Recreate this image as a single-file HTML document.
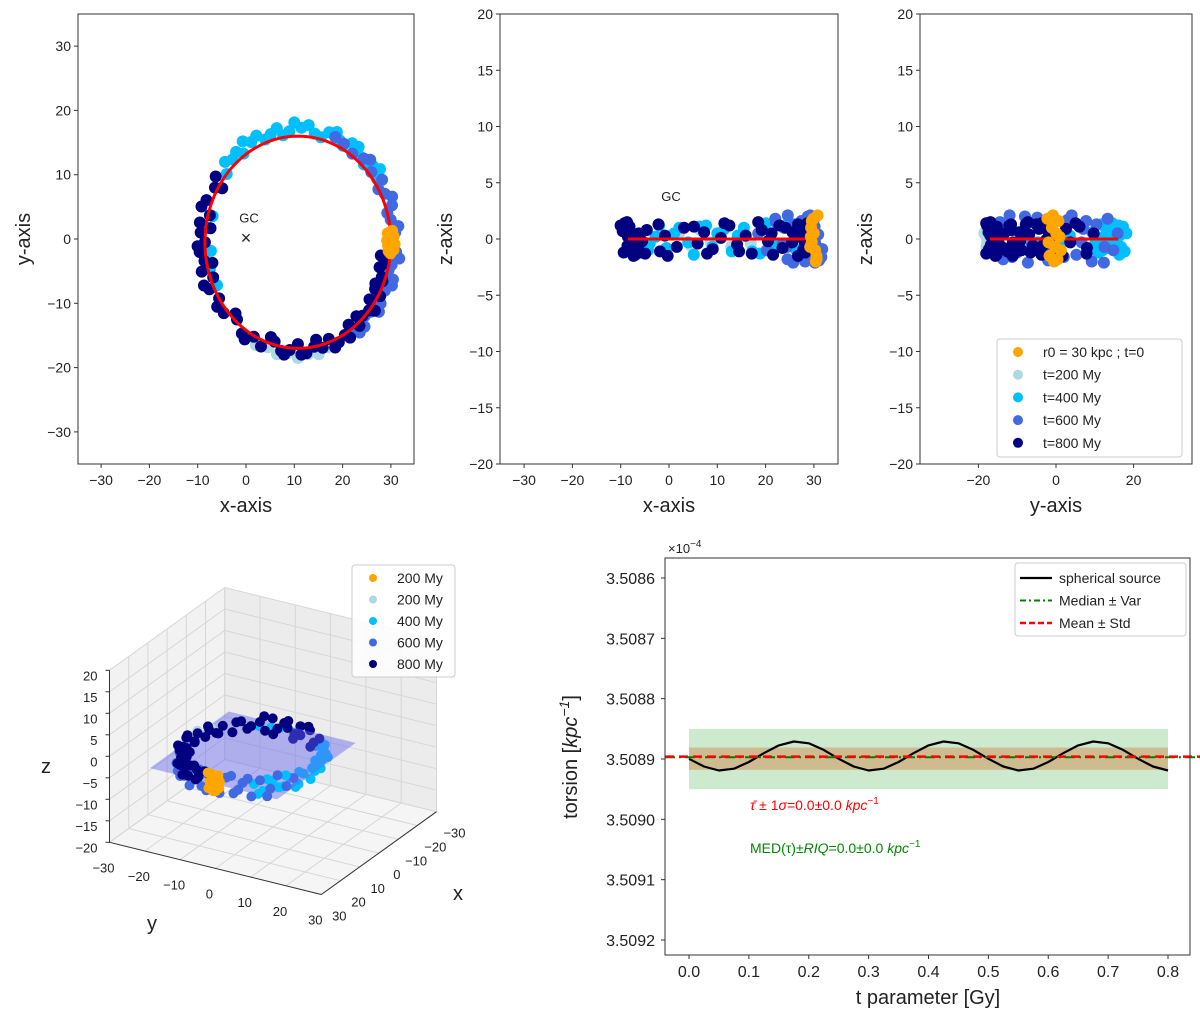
<!DOCTYPE html>
<html><head><meta charset="utf-8"><style>
html,body{margin:0;padding:0;background:#fff}
svg{display:block;font-family:"Liberation Sans","DejaVu Sans",sans-serif}
</style></head><body>
<svg id="fig" width="1200" height="1015" viewBox="0 0 1200 1015" xmlns="http://www.w3.org/2000/svg">
<rect width="1200" height="1015" fill="#fff"/>
<g id="g1"></g>
<g id="g2"></g>
<g id="g3"></g>
<g id="g4"></g>
<g id="g5"></g>
</svg>
<script>
// ---- data ----
const groupNames = ["t=200 My","t=400 My","t=600 My","t=800 My","r0 = 30 kpc ; t=0"];
const groupColors = ["#ADD8E6","#00BFFF","#4169E1","#000080","#FFA500"];
const lightAngles = [245,252,258,264,270,276,282,288];
const lightOffsets = [0.07,0.04,0.08,0.05,0.09,0.06,0.08,0.04];
const lightZ = [0.4,-0.6,0.8,-0.3,0.5,-0.7,0.2,-0.4];
const skyAngles = [35,42,50,58,65,72,80,88,95,102,110,118,125,132,140,165,172,185,195,205,38,46,54,62,68,76,84,92,99,106,114,122,128,136];
const skyOffsets = [0.04,0.08,0.05,0.1,0.06,0.09,0.04,0.08,0.05,0.1,0.03,0.07,0.02,0.05,0.0,-0.05,-0.03,-0.06,-0.02,-0.04,0.12,0.02,0.11,0.03,0.12,0.02,0.11,0.13,0.02,0.06,0.1,0.12,0.08,0.09];
const skyZ = [0.6,-0.9,1.0,-0.5,0.8,-1.1,0.3,0.9,-0.7,1.1,-0.3,0.5,-0.8,0.2,-0.4,0.3,-0.2,0.4,-0.3,0.1,-1.2,1.3,-0.4,1.4,-1.3,1.0,-1.1,0.5,1.2,-1.4,1.0,-0.9,1.2,-1.0];
const royalAngles = [-55,-48,-40,-33,-26,-19,-12,-5,5,12,19,26,33,40,48,55,62,68,-52,-44,-37,-30,-22,-15,-8,8,16,23,30,45];
const royalOffsets = [0.03,0.07,0.02,0.06,0.04,0.08,0.03,0.06,0.05,0.02,0.07,0.04,0.08,0.03,0.06,0.02,0.05,0.07,0.08,0.0,0.09,0.01,0.09,0.01,0.1,0.09,0.0,0.1,0.0,0.1];
const royalZ = [1.5,-1.8,0.8,-1.2,2.0,-0.6,1.1,-1.9,0.4,1.7,-1.4,0.9,-2.0,1.3,-0.7,1.8,-1.0,0.5,-0.5,2.1,-1.6,0.3,-2.1,1.9,-0.9,-1.6,2.1,-0.3,1.6,-2.1];
const navyAngles = [145,150,158,165,170,175,180,185,190,195,200,205,212,220,228,235,242,248,255,260,265,270,275,280,285,290,295,300,305,310,315,320,325,330,335,340,345,352,148,162,172,182,192,202,215,225,238,252,262,272,282,292,302,312,322,332,338,348];
const navyOffsets = [0.08,0.03,0.06,-0.02,0.07,0.05,0.0,0.06,0.02,0.07,-0.03,0.05,0.0,0.04,-0.02,0.05,0.01,0.06,-0.03,0.04,0.02,-0.04,0.05,0.0,0.03,-0.03,0.04,0.01,-0.05,0.03,-0.02,0.0,-0.06,0.02,-0.08,-0.04,-0.09,-0.1,-0.04,0.09,-0.05,0.08,-0.06,0.09,0.06,-0.05,0.08,-0.06,0.07,0.06,-0.06,0.07,0.06,-0.06,0.05,-0.06,-0.02,-0.05];
const navyZ = [0.5,-0.8,1.1,-0.3,0.9,-1.2,0.2,0.7,-0.6,1.3,-1.0,0.4,-0.2,0.8,-1.1,0.3,-0.7,1.0,-0.4,0.6,-0.9,0.1,1.2,-0.5,0.3,-1.3,0.8,-0.2,0.5,-0.8,1.0,-0.3,0.6,-1.0,0.4,-0.6,0.9,-0.1,-1.3,1.4,-1.5,1.2,-1.4,1.5,-1.2,1.3,-1.5,1.1,-1.3,1.4,-1.1,1.5,-1.4,1.2,-1.5,1.3,-1.2,1.4];
const orangeAngles = [-6,-4,-2,0,2,4,6,-5,-1,3,5,1];
const orangeOffsets = [0.0,0.03,-0.03,0.02,0.0,-0.02,0.02,-0.02,0.04,0.03,-0.03,-0.04];
const orangeZ = [1.8,-1.5,1.0,-2.0,0.5,1.6,-1.0,-0.3,2.1,-1.8,0.2,-0.7];
const orbitCenter = [10.75,-0.5];
const orbitRadii = [19.25,16.5];
const xyTicks = [-30,-20,-10,0,10,20,30];
const zTicks = [-20,-15,-10,-5,0,5,10,15,20];
const yzXTicks = [-20,0,20];
const tVals = [0,0.025,0.05,0.075,0.1,0.125,0.15,0.175,0.2,0.225,0.25,0.275,0.3,0.325,0.35,0.375,0.4,0.425,0.45,0.475,0.5,0.525,0.55,0.575,0.6,0.625,0.65,0.675,0.7,0.725,0.75,0.775,0.8];
const torsionVals = [3.5088996,3.5089125,3.508919,3.508916,3.508905,3.5088904,3.5088775,3.508871,3.508874,3.508885,3.5088996,3.5089125,3.508919,3.508916,3.508905,3.5088904,3.5088775,3.508871,3.508874,3.508885,3.5088996,3.5089125,3.508919,3.508916,3.508905,3.5088904,3.5088775,3.508871,3.508874,3.508885,3.5088996,3.5089125,3.508919];
const torsionMean = [3.508896];
const torsionMedian = [3.508897];
const stdBand = [3.508881,3.508918];
const varBand = [3.50885,3.50895];
const tTicks = [0,0.1,0.2,0.3,0.4,0.5,0.6,0.7,0.8];
const torsionTicks = [3.5086,3.5087,3.5088,3.5089,3.509,3.5091,3.5092];

// ---- helpers ----
const NS='http://www.w3.org/2000/svg';
function add(parent, tag, attrs, name){
  const e=document.createElementNS(NS,tag);
  for(const k in attrs) e.setAttribute(k,attrs[k]);
  
  
  parent.appendChild(e);
  return e;
}
function txt(parent,x,y,s,size,anchor,name,extra){
  const a={x:x,y:y,'font-size':size,'text-anchor':anchor||'middle',fill:'#222'};
  if(extra) for(const k in extra) a[k]=extra[k];
  const t=add(parent,'text',a,name); t.textContent=s; return t;
}
function groupPoints(ang,off,z){
  return ang.map((a,i)=>{const r=a*Math.PI/180;
    return {x:orbitCenter[0]+orbitRadii[0]*(1+off[i])*Math.cos(r), y:orbitCenter[1]+orbitRadii[1]*(1+off[i])*Math.sin(r), z:z[i]};});
}
const groups=[groupPoints(lightAngles,lightOffsets,lightZ),groupPoints(skyAngles,skyOffsets,skyZ),groupPoints(royalAngles,royalOffsets,royalZ),groupPoints(navyAngles,navyOffsets,navyZ),groupPoints(orangeAngles,orangeOffsets,orangeZ)];
const orbit=[];for(let k=0;k<=120;k++){const r=k*3*Math.PI/180;orbit.push({x:orbitCenter[0]+orbitRadii[0]*Math.cos(r),y:orbitCenter[1]+orbitRadii[1]*Math.sin(r),z:0});}

// ---- top panels ----
const sx1=x=>246+4.83*x, sy1=y=>239-6.43*y;
const sx2=x=>669+4.83*x, sz=z=>239-11.25*z;
const sy3=y=>1056+3.88*y;
const panels=[
 {g:document.getElementById('g1'),L:78,R:414,fx:p=>sx1(p.x),fy:p=>sy1(p.y),xt:xyTicks,xs:sx1,yt:xyTicks,ys:sy1,xl:'x-axis',yl:'y-axis'},
 {g:document.getElementById('g2'),L:500,R:838,fx:p=>sx2(p.x),fy:p=>sz(p.z),xt:xyTicks,xs:sx2,yt:zTicks,ys:sz,xl:'x-axis',yl:'z-axis'},
 {g:document.getElementById('g3'),L:920,R:1192,fx:p=>sy3(p.y),fy:p=>sz(p.z),xt:yzXTicks,xs:sy3,yt:zTicks,ys:sz,xl:'y-axis',yl:'z-axis'}
];
panels.forEach((P,pi)=>{
  const g=P.g;
  groups.forEach((pts,gi)=>{
    pts.forEach(p=>{
      add(g,'circle',{cx:P.fx(p).toFixed(1),cy:P.fy(p).toFixed(1),r:6,fill:groupColors[gi]},'scatter-point');
    });
    if(gi===3){
      add(g,'polyline',{points:orbit.map(p=>P.fx(p).toFixed(1)+','+P.fy(p).toFixed(1)).join(' '),fill:'none',stroke:'#f00','stroke-width':3},'orbit-line');
    }
  });
  add(g,'rect',{x:P.L,y:14,width:P.R-P.L,height:450,fill:'none',stroke:'#333','stroke-width':1},'axes-frame');
  P.xt.forEach(v=>{const x=P.xs(v);
    add(g,'line',{x1:x,x2:x,y1:464,y2:468,stroke:'#333'},'x-tick');
    txt(g,x,485,String(v).replace('-','\u2212'),14,'middle','x-tick-label');});
  P.yt.forEach(v=>{const y=P.ys(v);
    add(g,'line',{x1:P.L-4,x2:P.L,y1:y,y2:y,stroke:'#333'},'y-tick');
    txt(g,P.L-7,y+5,String(v).replace('-','\u2212'),14,'end','y-tick-label');});
  txt(g,(P.L+P.R)/2,512,P.xl,20,'middle','x-axis-title');
  const yt=txt(g,0,0,P.yl,20,'middle','y-axis-title');
  yt.setAttribute('transform','translate('+(P.L-48)+',239) rotate(-90)');
});
txt(panels[0].g,sx1(0)+3,sy1(2.6),'GC',13,'middle','gc-label');
txt(panels[0].g,sx1(0),sy1(0)+5,'\u00d7',18,'middle','gc-marker');
txt(panels[1].g,sx2(0)+2,sz(3.4),'GC',13,'middle','gc-label');
(function(){const g=panels[2].g;
  add(g,'rect',{x:997,y:339,width:185,height:118,rx:3,fill:'#fff','fill-opacity':0.85,stroke:'#ccc'},'legend-box');
  const order=[4,0,1,2,3];
  order.forEach((gi,i)=>{const y=352+i*22.7;
    add(g,'circle',{cx:1018,cy:y,r:5,fill:groupColors[gi]},'legend-marker');
    txt(g,1043,y+5,groupNames[gi],14,'start','legend-entry');});
})();

// ---- 3D panel ----
const g4=document.getElementById('g4');
const P3=(x,y,z)=>[273-1.92*x+3.53*y, 741+1.38*x+0.87*y-4.3*z];
function poly(pts,attrs,name){return add(g4,'polygon',Object.assign({points:pts.map(p=>p[0].toFixed(1)+','+p[1].toFixed(1)).join(' ')},attrs),name);}
poly([P3(30,-30,-20),P3(-30,-30,-20),P3(-30,-30,20),P3(30,-30,20)],{fill:'#f2f2f2'},'left-pane');
poly([P3(-30,-30,-20),P3(-30,30,-20),P3(-30,30,20),P3(-30,-30,20)],{fill:'#ececec'},'back-pane');
poly([P3(30,-30,-20),P3(30,30,-20),P3(-30,30,-20),P3(-30,-30,-20)],{fill:'#f5f5f5'},'floor-pane');
function seg(a,b,c,w,name){add(g4,'line',{x1:a[0],y1:a[1],x2:b[0],y2:b[1],stroke:c,'stroke-width':w},name);}
xyTicks.forEach(v=>{
  seg(P3(v,-30,-20),P3(v,30,-20),'#d6d6d6',1,'grid-line');
  seg(P3(-30,v,-20),P3(30,v,-20),'#d6d6d6',1,'grid-line');
  seg(P3(v,-30,-20),P3(v,-30,20),'#d6d6d6',1,'grid-line');
  seg(P3(-30,v,-20),P3(-30,v,20),'#d6d6d6',1,'grid-line');
});
zTicks.forEach(v=>{
  seg(P3(30,-30,v),P3(-30,-30,v),'#d6d6d6',1,'grid-line');
  seg(P3(-30,-30,v),P3(-30,30,v),'#d6d6d6',1,'grid-line');
});
seg(P3(30,-30,-20),P3(30,-30,20),'#333',1,'z-axis-line');
seg(P3(30,-30,-20),P3(30,30,-20),'#333',1,'y-axis-line');
seg(P3(30,30,-20),P3(-30,30,-20),'#333',1,'x-axis-line');
zTicks.forEach(v=>{const p=P3(30,-30,v);seg(p,[p[0]-4,p[1]],'#333',1,'z-tick');txt(g4,p[0]-12,p[1]+10,String(v).replace('-','\u2212'),13,'end','z-tick-label');});
xyTicks.forEach(v=>{const p=P3(30,v,-20);txt(g4,p[0]-6,p[1]+30,String(v).replace('-','\u2212'),13,'middle','y-tick-label');
  const q=P3(v,30,-20);txt(g4,q[0]+18,q[1]+26,String(v).replace('-','\u2212'),13,'middle','x-tick-label');});
txt(g4,46,773,'z',20,'middle','z-axis-title');
txt(g4,152,930,'y',20,'middle','y-axis-title');
txt(g4,458,900,'x',20,'middle','x-axis-title');
const back=[],front=[];
groups.forEach((pts,gi)=>pts.forEach(p=>{(p.y>0&&p.x<20?back:front).push([p,gi]);}));
function dot(p,gi){const s=P3(p.x,p.y,p.z);add(g4,'circle',{cx:s[0].toFixed(1),cy:s[1].toFixed(1),r:5,fill:groupColors[gi]},'scatter-point-3d');}
back.forEach(a=>dot(a[0],a[1]));
poly([P3(31,-18,0),P3(-10,-18,0),P3(-10,18,0),P3(31,18,0)],{fill:'#6464f0','fill-opacity':0.45},'fit-plane');
front.forEach(a=>dot(a[0],a[1]));
add(g4,'rect',{x:352,y:565,width:103,height:112,rx:3,fill:'#fff','fill-opacity':0.85,stroke:'#ccc'},'legend-box');
[["200 My",4],["200 My",0],["400 My",1],["600 My",2],["800 My",3]].forEach((e,i)=>{const y=578+i*21.5;
  add(g4,'circle',{cx:373,cy:y,r:4,fill:groupColors[e[1]]},'legend-marker');
  txt(g4,397,y+5,e[0],14,'start','legend-entry');});

// ---- torsion panel ----
const g5=document.getElementById('g5');
const tx=t=>689+598.75*t, vy=v=>578+(v-3.5086)*603333;
const L5=665,R5=1190,T5=558,B5=955;
add(g5,'rect',{x:tx(0),y:vy(varBand[0]),width:tx(0.8)-tx(0),height:vy(varBand[1])-vy(varBand[0]),fill:'#4caf50','fill-opacity':0.28},'var-band');
add(g5,'rect',{x:tx(0),y:vy(stdBand[0]),width:tx(0.8)-tx(0),height:vy(stdBand[1])-vy(stdBand[0]),fill:'#d2691e','fill-opacity':0.35},'std-band');
add(g5,'polyline',{points:tVals.map((t,i)=>tx(t).toFixed(1)+','+vy(torsionVals[i]).toFixed(1)).join(' '),fill:'none',stroke:'#000','stroke-width':2.2,'stroke-linejoin':'round'},'torsion-line');
add(g5,'line',{x1:L5,x2:1200,y1:vy(torsionMedian[0]),y2:vy(torsionMedian[0]),stroke:'#008000','stroke-width':2,'stroke-dasharray':'10 4 2 4'},'median-line');
add(g5,'line',{x1:L5,x2:1200,y1:vy(torsionMean[0]),y2:vy(torsionMean[0]),stroke:'#f00','stroke-width':2.5,'stroke-dasharray':'9 5'},'mean-line');
add(g5,'rect',{x:L5,y:T5,width:R5-L5,height:B5-T5,fill:'none',stroke:'#333'},'axes-frame');
tTicks.forEach(v=>{const x=tx(v);add(g5,'line',{x1:x,x2:x,y1:B5,y2:B5+4,stroke:'#333'},'x-tick');txt(g5,x,977,v.toFixed(1),16,'middle','x-tick-label');});
torsionTicks.forEach(v=>{const y=vy(v);add(g5,'line',{x1:L5-4,x2:L5,y1:y,y2:y,stroke:'#333'},'y-tick');txt(g5,655,y+6,v.toFixed(4),16,'end','y-tick-label');});
const off=txt(g5,668,553,'\u00d710',13,'start','offset-label');
const sup=document.createElementNS(NS,'tspan');sup.setAttribute('dy','-6');sup.setAttribute('font-size','10');sup.textContent='\u22124';off.appendChild(sup);
txt(g5,928,1004,'t parameter [Gy]',20,'middle','x-axis-title');
const yl=add(g5,'text',{'font-size':20,'text-anchor':'middle',fill:'#222',transform:'translate(577,757) rotate(-90)'},'y-axis-title');
yl.innerHTML='torsion [<tspan font-style="italic">kpc</tspan><tspan dy="-8" font-size="14" font-style="italic">\u22121</tspan><tspan dy="8">]</tspan>';
const a1=add(g5,'text',{x:750,y:810,'font-size':14,fill:'#f00'},'mean-annotation');
a1.innerHTML='<tspan font-style="italic">\u03c4\u0304</tspan> \u00b1 1<tspan font-style="italic">\u03c3</tspan>=0.0\u00b10.0 <tspan font-style="italic">kpc</tspan><tspan dy="-6" font-size="10">\u22121</tspan>';
const a2=add(g5,'text',{x:750,y:853,'font-size':14,fill:'#080'},'median-annotation');
a2.innerHTML='MED(\u03c4)\u00b1<tspan font-style="italic">RIQ</tspan>=0.0\u00b10.0 <tspan font-style="italic">kpc</tspan><tspan dy="-6" font-size="10">\u22121</tspan>';
add(g5,'rect',{x:1015,y:563,width:171,height:73,rx:3,fill:'#fff',stroke:'#ccc'},'legend-box');
[['spherical source','#000','none',2.2],['Median \u00b1 Var','#008000','6 3 2 3',2],['Mean \u00b1 Std','#f00','6 3',2.5]].forEach((e,i)=>{const y=578+i*22.5;
  add(g5,'line',{x1:1020,x2:1052,y1:y,y2:y,stroke:e[1],'stroke-width':e[3],'stroke-dasharray':e[2]},'legend-line');
  txt(g5,1059,y+5,e[0],14,'start','legend-entry');});
</script>
</body></html>
